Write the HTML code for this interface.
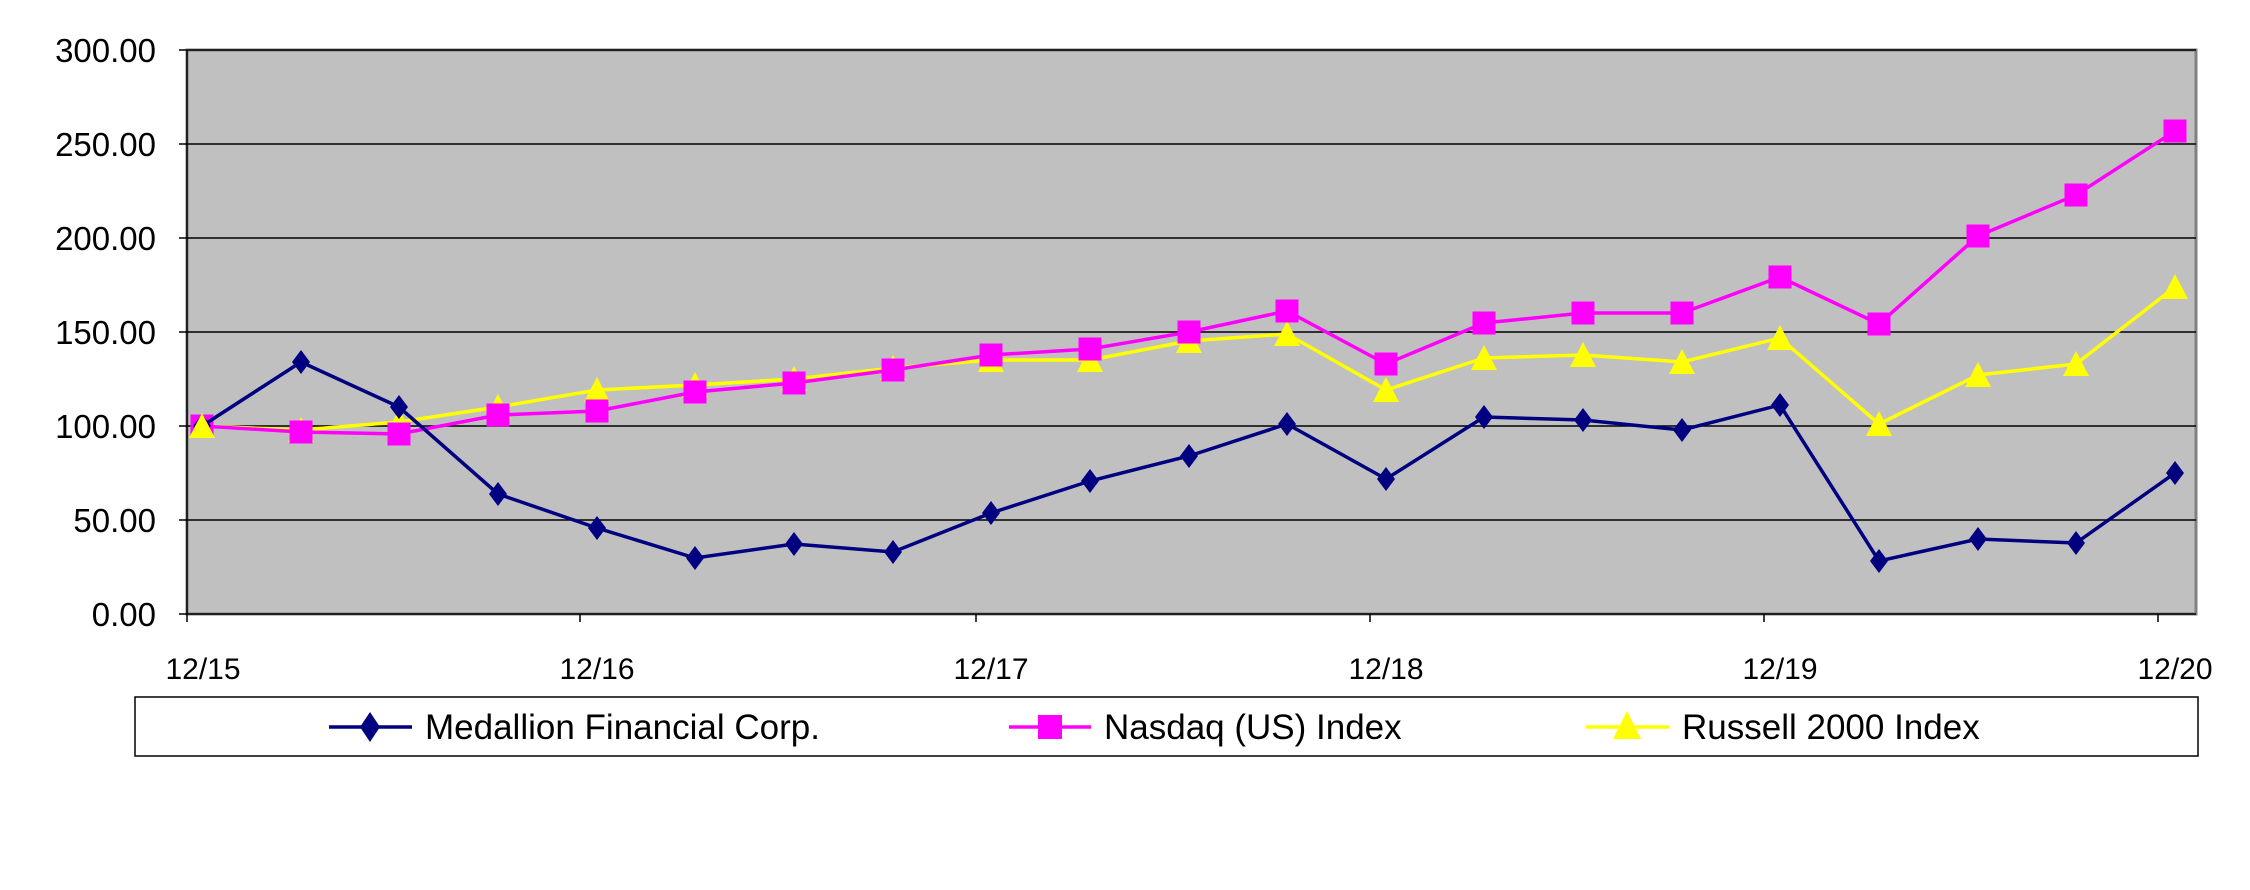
<!DOCTYPE html>
<html><head><style>body{margin:0;background:#fff}svg{display:block}</style></head><body>
<svg width="2250" height="890" xmlns="http://www.w3.org/2000/svg" font-family="Liberation Sans, Arial, sans-serif">
<defs>
<marker id="d" markerUnits="userSpaceOnUse" markerWidth="28" markerHeight="28" refX="14" refY="14"><polygon points="14,2 23,14 14,26 5,14" fill="#000080"/></marker>
<marker id="s" markerUnits="userSpaceOnUse" markerWidth="26" markerHeight="26" refX="13" refY="13"><rect x="1.5" y="1.5" width="23" height="23" fill="#ff00ff"/></marker>
<marker id="t" markerUnits="userSpaceOnUse" markerWidth="28" markerHeight="28" refX="14" refY="14"><polygon points="14,1 27,26 1,26" fill="#ffff00"/></marker>
</defs>
<rect x="187" y="50" width="2009" height="564" fill="#c0c0c0" stroke="#808080" stroke-width="3"/>
<g stroke="#000" stroke-width="1.5">
<line x1="187" y1="50" x2="2196" y2="50"/><line x1="187" y1="144" x2="2196" y2="144"/><line x1="187" y1="238" x2="2196" y2="238"/><line x1="187" y1="332" x2="2196" y2="332"/><line x1="187" y1="426" x2="2196" y2="426"/><line x1="187" y1="520" x2="2196" y2="520"/>
<line x1="187" y1="50" x2="187" y2="614"/><line x1="187" y1="614" x2="2196" y2="614"/>
<line x1="179" y1="50" x2="187" y2="50"/><line x1="179" y1="144" x2="187" y2="144"/><line x1="179" y1="238" x2="187" y2="238"/><line x1="179" y1="332" x2="187" y2="332"/><line x1="179" y1="426" x2="187" y2="426"/><line x1="179" y1="520" x2="187" y2="520"/><line x1="179" y1="614" x2="187" y2="614"/>
<line x1="187" y1="614" x2="187" y2="622"/><line x1="580" y1="614" x2="580" y2="622"/><line x1="976" y1="614" x2="976" y2="622"/><line x1="1370" y1="614" x2="1370" y2="622"/><line x1="1764" y1="614" x2="1764" y2="622"/><line x1="2158" y1="614" x2="2158" y2="622"/>
</g>
<g font-size="33" text-anchor="end" fill="#000">
<text x="156" y="62">300.00</text><text x="156" y="156">250.00</text><text x="156" y="250">200.00</text><text x="156" y="344">150.00</text><text x="156" y="438">100.00</text><text x="156" y="532">50.00</text><text x="156" y="626">0.00</text>
</g>
<g font-size="30" text-anchor="middle" fill="#000">
<text x="203" y="679">12/15</text><text x="597" y="679">12/16</text><text x="991" y="679">12/17</text><text x="1386" y="679">12/18</text><text x="1780" y="679">12/19</text><text x="2175" y="679">12/20</text>
</g>
<polyline fill="none" stroke="#ffff00" stroke-width="3.5" marker-start="url(#t)" marker-mid="url(#t)" marker-end="url(#t)" points="202,426 301,430 399,422 498,407 597,390 695,385 794,379 893,368 991,360 1090,360 1189,341 1287,334 1386,390 1484,358 1583,355 1682,362 1780,338 1879,424 1978,375 2076,364 2175,287"/>
<polyline fill="none" stroke="#ff00ff" stroke-width="3.5" marker-start="url(#s)" marker-mid="url(#s)" marker-end="url(#s)" points="202,426 301,432 399,434 498,415 597,411 695,392 794,383 893,370 991,355 1090,349 1189,332 1287,311 1386,364 1484,323 1583,313 1682,313 1780,277 1879,324 1978,236 2076,195 2175,131"/>
<polyline fill="none" stroke="#000080" stroke-width="3.5" marker-start="url(#d)" marker-mid="url(#d)" marker-end="url(#d)" points="202,426 301,362 399,407 498,494 597,528 695,558 794,544 893,552 991,513 1090,481 1189,456 1287,424 1386,479 1484,417 1583,420 1682,430 1780,405 1879,561 1978,539 2076,543 2175,473"/>
<polyline fill="none" stroke="#ffff00" stroke-width="3.5" marker-start="url(#t)" points="202,426 203,426"/>
<rect x="135" y="697" width="2063" height="59" fill="#fff" stroke="#000" stroke-width="1.5"/>
<line x1="329" y1="727" x2="412" y2="727" stroke="#000080" stroke-width="3.5"/><polygon points="370,712 380,727 370,742 360,727" fill="#000080"/>
<line x1="1009" y1="727" x2="1091" y2="727" stroke="#ff00ff" stroke-width="3.5"/><rect x="1038" y="715" width="24" height="24" fill="#ff00ff"/>
<line x1="1586" y1="727" x2="1669" y2="727" stroke="#ffff00" stroke-width="3.5"/><polygon points="1627,711 1641,739 1613,739" fill="#ffff00"/>
<g font-size="35" fill="#000">
<text x="425" y="739">Medallion Financial Corp.</text><text x="1104" y="739">Nasdaq (US) Index</text><text x="1682" y="739">Russell 2000 Index</text>
</g>
</svg>
</body></html>
